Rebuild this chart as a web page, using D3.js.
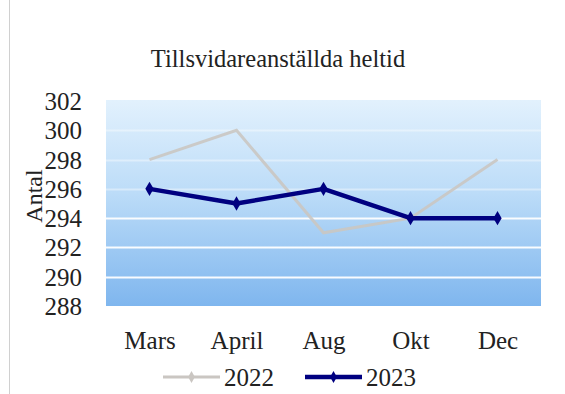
<!DOCTYPE html>
<html>
<head>
<meta charset="utf-8">
<script src="https://cdn.jsdelivr.net/npm/d3@7"></script>
<style>
  body { margin: 0; background: #fff; }
</style>
</head>
<body>
<div id="chart"></div>
<script>
// chart data
var months = ['Mars', 'April', 'Aug', 'Okt', 'Dec'];
var values2022 = [298, 300, 293, 294, 298];
var values2023 = [296, 295, 296, 294, 294];
var yTicks = [288, 290, 292, 294, 296, 298, 300, 302];

var width = 565;
var height = 394;
var plot = { left: 106, right: 541, top: 101, bottom: 306 };
var serif = '"Liberation Serif", "DejaVu Serif", serif';

var svg = d3.select('#chart')
  .append('svg')
  .attr('width', width)
  .attr('height', height);

// background gradient for plot area
var defs = svg.append('defs');
var grad = defs.append('linearGradient')
  .attr('id', 'bg')
  .attr('x1', 0).attr('y1', 0).attr('x2', 0).attr('y2', 1);
grad.append('stop').attr('offset', '0%').attr('stop-color', '#e2f1fd');
grad.append('stop').attr('offset', '45%').attr('stop-color', '#bcdcf8');
grad.append('stop').attr('offset', '100%').attr('stop-color', '#7fb6ee');

// left frame line
svg.append('line')
  .attr('x1', 9.5).attr('x2', 9.5)
  .attr('y1', 0).attr('y2', height)
  .attr('stroke', '#d0d0d0');

var x = d3.scalePoint()
  .domain(months)
  .range([plot.left, plot.right])
  .padding(0.5);

var y = d3.scaleLinear()
  .domain([288, 302])
  .range([plot.bottom, plot.top]);

svg.append('rect')
  .attr('x', plot.left)
  .attr('y', plot.top - 1)
  .attr('width', plot.right - plot.left)
  .attr('height', plot.bottom - plot.top + 1)
  .attr('fill', 'url(#bg)');

// gridlines
svg.append('g')
  .selectAll('line')
  .data(yTicks.filter(function(d) { return d > 288 && d < 302; }))
  .enter()
  .append('line')
    .attr('x1', plot.left)
    .attr('x2', plot.right)
    .attr('y1', function(d) { return Math.round(y(d)) + 0.5; })
    .attr('y2', function(d) { return Math.round(y(d)) + 0.5; })
    .attr('stroke', '#fff')
    .attr('stroke-width', 2)
    .attr('opacity', function(d) { return d <= 294 ? 0.95 : 0.4; });

// y axis labels
var yAxis = d3.axisLeft(y).tickValues(yTicks).tickSize(0).tickPadding(0);
var gy = svg.append('g')
  .attr('transform', 'translate(' + 82 + ',0)')
  .call(yAxis);
gy.select('.domain').remove();
gy.selectAll('text')
  .style('font-family', serif)
  .style('font-size', '25px')
  .style('fill', '#222')
  .attr('dy', '0.34em');

// x axis labels
var xAxis = d3.axisBottom(x).tickSize(0).tickPadding(0);
var gx = svg.append('g')
  .attr('transform', 'translate(0,' + 331 + ')')
  .call(xAxis);
gx.select('.domain').remove();
gx.selectAll('text')
  .style('font-family', serif)
  .style('font-size', '25px')
  .style('fill', '#222')
  .attr('dy', '0.71em');

// axis title
svg.append('text')
  .attr('transform', 'translate(42,196) rotate(-90)')
  .attr('text-anchor', 'middle')
  .style('font-family', serif)
  .style('font-size', '24px')
  .style('fill', '#222')
  .text('Antal');

// chart title
svg.append('text')
  .attr('x', 278)
  .attr('y', 67)
  .attr('text-anchor', 'middle')
  .style('font-family', serif)
  .style('font-size', '24.5px')
  .style('fill', '#222')
  .text('Tillsvidareanställda heltid');

var line = d3.line()
  .x(function(d, i) { return x(months[i]); })
  .y(function(d) { return y(d); });

// 2022 series
svg.append('path')
  .datum(values2022)
  .attr('d', line)
  .attr('fill', 'none')
  .attr('stroke', '#cac6c2')
  .attr('stroke-width', 3)
  .attr('opacity', 0.9);

// 2023 series
svg.append('path')
  .datum(values2023)
  .attr('d', line)
  .attr('fill', 'none')
  .attr('stroke', '#000080')
  .attr('stroke-width', 4.5)
  .attr('stroke-linejoin', 'round');

var diamond = d3.symbol().type(d3.symbolDiamond).size(60);
svg.append('g')
  .selectAll('path')
  .data(values2023)
  .enter()
  .append('path')
    .attr('d', diamond)
    .attr('transform', function(d, i) { return 'translate(' + x(months[i]) + ',' + y(d) + ')'; })
    .attr('fill', '#000080');

// legend
var legend = [
  { name: '2022', color: '#cac6c2', w: 3, x: 163 },
  { name: '2023', color: '#000080', w: 4.5, x: 305 }
];
var lg = svg.append('g').selectAll('g')
  .data(legend)
  .enter()
  .append('g')
  .attr('transform', function(d) { return 'translate(' + d.x + ',377)'; });
lg.append('line')
  .attr('x1', 0).attr('x2', 57)
  .attr('stroke', function(d) { return d.color; })
  .attr('stroke-width', function(d) { return d.w; });
lg.append('path')
  .attr('d', d3.symbol().type(d3.symbolDiamond).size(40))
  .attr('transform', 'translate(28.5,0)')
  .attr('fill', function(d) { return d.color; });
lg.append('text')
  .attr('x', 61)
  .attr('dy', '0.35em')
  .style('font-family', serif)
  .style('font-size', '25px')
  .style('fill', '#222')
  .text(function(d) { return d.name; });
</script>
</body>
</html>
